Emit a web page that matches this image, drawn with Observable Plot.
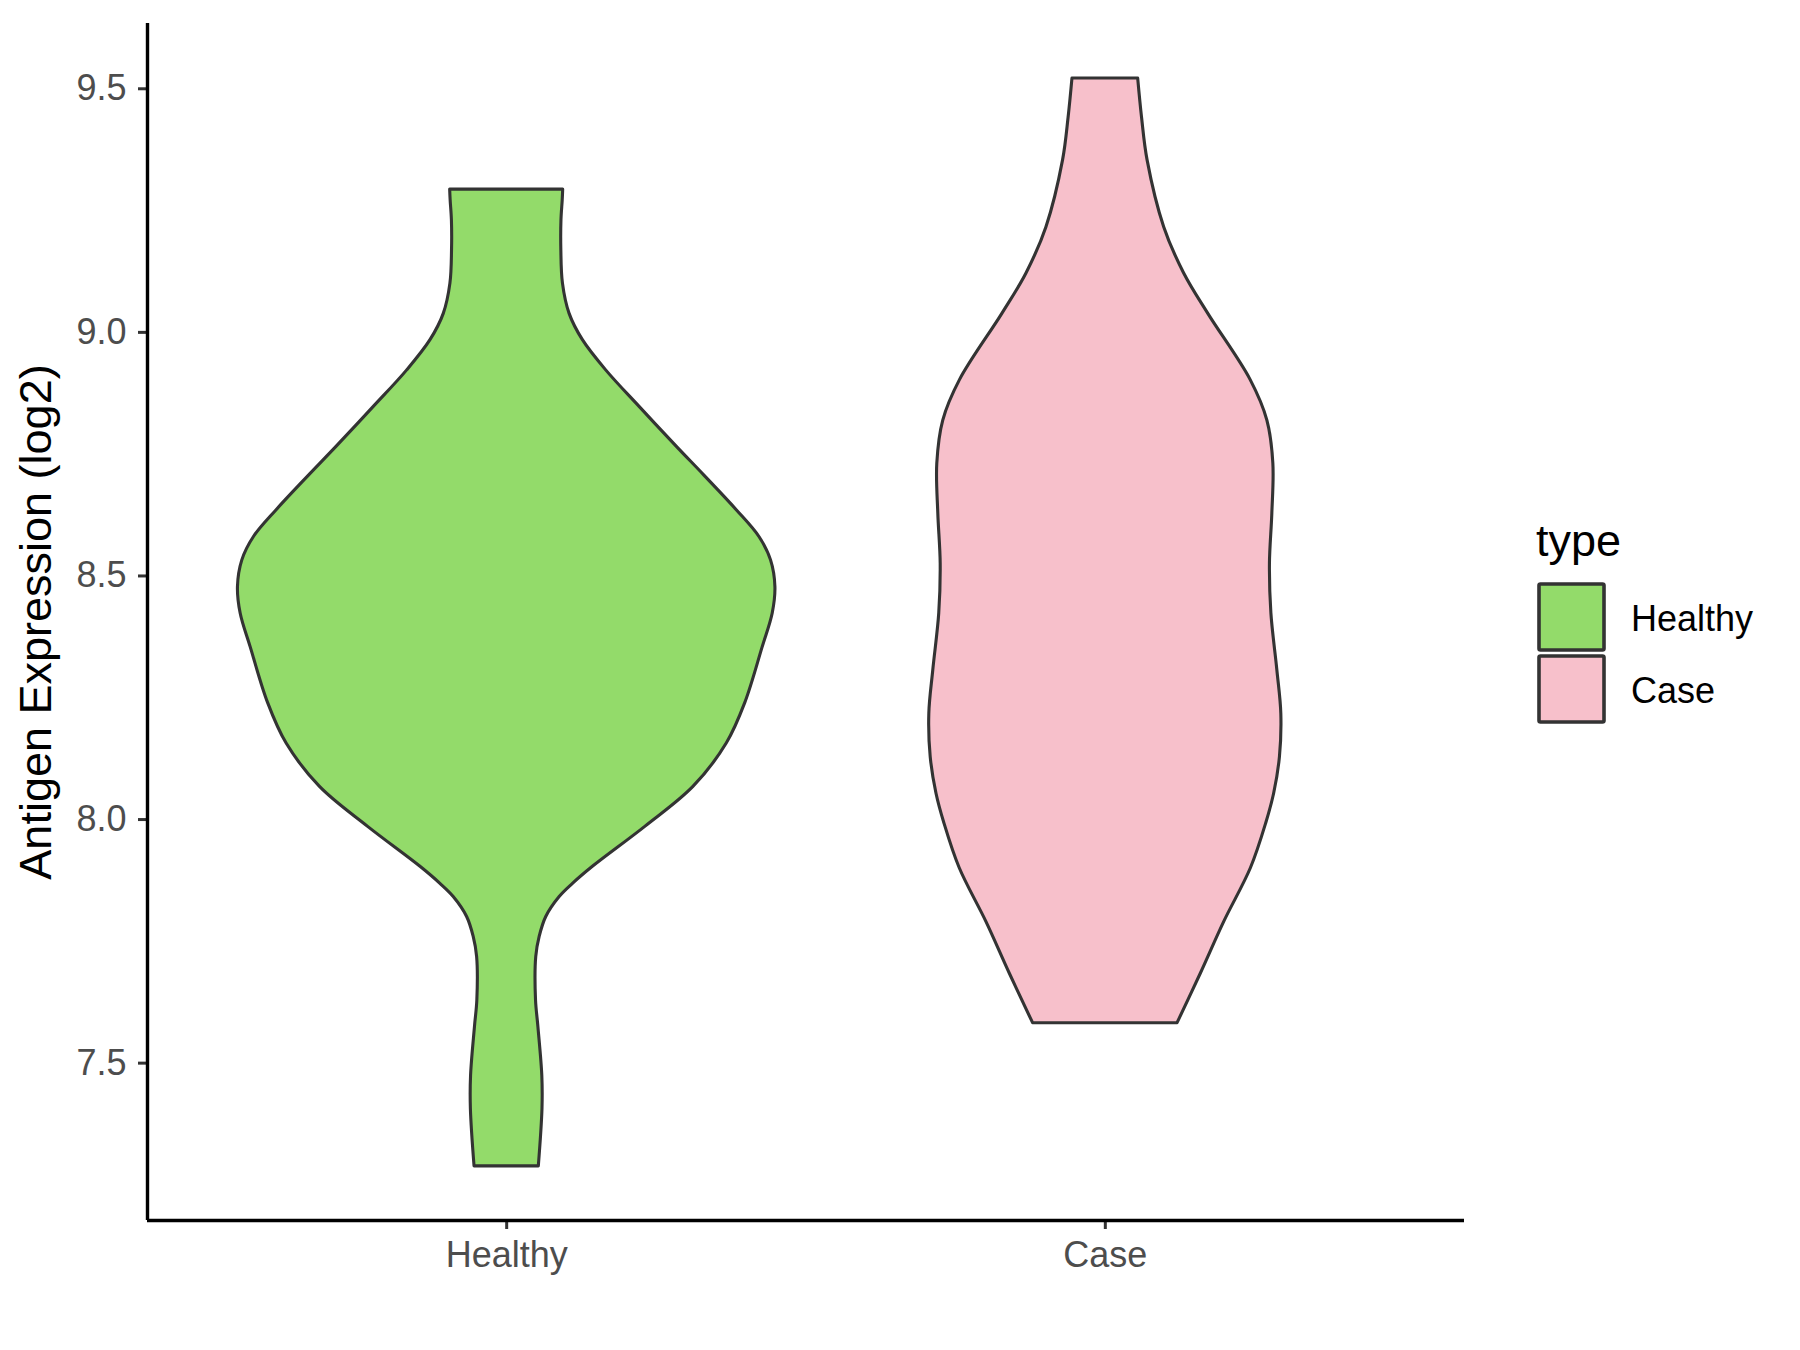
<!DOCTYPE html>
<html>
<head>
<meta charset="utf-8">
<script src="https://cdn.jsdelivr.net/npm/d3@7"></script>
<script src="https://cdn.jsdelivr.net/npm/@observablehq/plot@0.6"></script>
<style>
  html, body { margin: 0; padding: 0; background: #fff; }
  #wrap { position: relative; width: 1800px; height: 1350px; font-family: "Liberation Sans", Arial, Helvetica, sans-serif; }
  #legend { position: absolute; left: 0; top: 0; }
</style>
</head>
<body>
<div id="wrap"></div>
<script>
// ---- data ----
const categories = ["Healthy", "Case"];
const fills = ["#93DB6A", "#F7C0CB"];
const yTicks = [7.5, 8.0, 8.5, 9.0, 9.5];

// violin outlines: expression value and half-width (in category units)
const healthyY = [9.293, 9.271, 9.23, 9.168, 9.100, 9.038, 8.984, 8.922, 8.847, 8.765, 8.706, 8.635, 8.580, 8.532, 8.477, 8.423, 8.354, 8.239, 8.156, 8.067, 7.985, 7.903, 7.868, 7.841, 7.800, 7.759, 7.718, 7.629, 7.574, 7.474, 7.406, 7.288];
const healthyHalfWidth = [0.0944, 0.0936, 0.0915, 0.0913, 0.0940, 0.1051, 0.1273, 0.1662, 0.2220, 0.2843, 0.3303, 0.3843, 0.4222, 0.4416, 0.4489, 0.4444, 0.4277, 0.3985, 0.3676, 0.3119, 0.2315, 0.1440, 0.1107, 0.0885, 0.0661, 0.0551, 0.0494, 0.0490, 0.0530, 0.0595, 0.0598, 0.0537];

const caseY = [9.521, 9.44, 9.353, 9.216, 9.121, 9.038, 8.902, 8.819, 8.730, 8.628, 8.525, 8.423, 8.306, 8.217, 8.128, 8.053, 7.993, 7.90, 7.79, 7.684, 7.582];
const caseHalfWidth = [0.0549, 0.0614, 0.0706, 0.0983, 0.1317, 0.1720, 0.2428, 0.2707, 0.2807, 0.2790, 0.2750, 0.2774, 0.2874, 0.2940, 0.2917, 0.2820, 0.2690, 0.2432, 0.1987, 0.1597, 0.1207];

const yLabel = "Antigen Expression (log2)";
const legendTitle = "type";

// ---- build rows ----
const profiles = [[healthyY, healthyHalfWidth], [caseY, caseHalfWidth]];
const rows = [];
categories.forEach((c, i) => {
  const [ys, ws] = profiles[i];
  ys.forEach((v, j) => rows.push({cat: c, y: v, x1: i + 1 - ws[j], x2: i + 1 + ws[j]}));
});

const W = 1800, H = 1350;
const xDomain = [0.4, 2.6];
const yDomain = [7.177, 9.634];

const plot = Plot.plot({
  width: W,
  height: H,
  marginLeft: 147,
  marginRight: 336,
  marginTop: 23,
  marginBottom: 130,
  style: {fontFamily: '"Liberation Sans", Arial, Helvetica, sans-serif', background: "#fff", overflow: "visible"},
  x: {domain: xDomain},
  y: {domain: yDomain},
  marks: [
    ...categories.map((c, i) => Plot.areaX(rows, {
      filter: d => d.cat === c,
      y: "y", x1: "x1", x2: "x2",
      fill: fills[i], stroke: "#333333", strokeWidth: 3.1,
      curve: "catmull-rom", strokeLinejoin: "round"
    })),
    Plot.axisY({
      ticks: yTicks, tickFormat: d => d.toFixed(1),
      tickSize: 9, tickPadding: 12, fontSize: 36,
      stroke: "#333333", strokeWidth: 3, fill: "#4D4D4D",
      label: yLabel, labelAnchor: "center", labelOffset: 128, labelArrow: "none"
    }),
    Plot.axisX({
      ticks: [1, 2], tickFormat: d => categories[d - 1],
      tickSize: 9, tickPadding: 12, fontSize: 36,
      stroke: "#333333", strokeWidth: 3, fill: "#4D4D4D",
      label: null
    }),
    Plot.ruleX([xDomain[0]], {stroke: "#000", strokeWidth: 3.4}),
    Plot.ruleY([yDomain[0]], {stroke: "#000", strokeWidth: 3.4})
  ]
});

d3.select(plot).selectAll("[aria-label='y-axis label'] text, g[aria-label='y-axis label'] text")
  .attr("font-size", 45).attr("fill", "#000");

document.getElementById("wrap").appendChild(plot);

// ---- legend ----
const leg = d3.select("#wrap").append("svg").attr("id", "legend")
  .attr("width", W).attr("height", H).style("pointer-events", "none");
leg.append("text").attr("x", 1536).attr("y", 556).attr("font-size", 45)
  .attr("fill", "#000").attr("font-family", '"Liberation Sans", Arial, sans-serif').text(legendTitle);
categories.forEach((c, i) => {
  const top = 584 + i * 72;
  leg.append("rect").attr("x", 1539).attr("y", top).attr("width", 65).attr("height", 66)
    .attr("fill", fills[i]).attr("stroke", "#333333").attr("stroke-width", 3.6).attr("rx", 1.5);
  leg.append("text").attr("x", 1631).attr("y", top + 47).attr("font-size", 36)
    .attr("fill", "#000").attr("font-family", '"Liberation Sans", Arial, sans-serif').text(c);
});
</script>
</body>
</html>
